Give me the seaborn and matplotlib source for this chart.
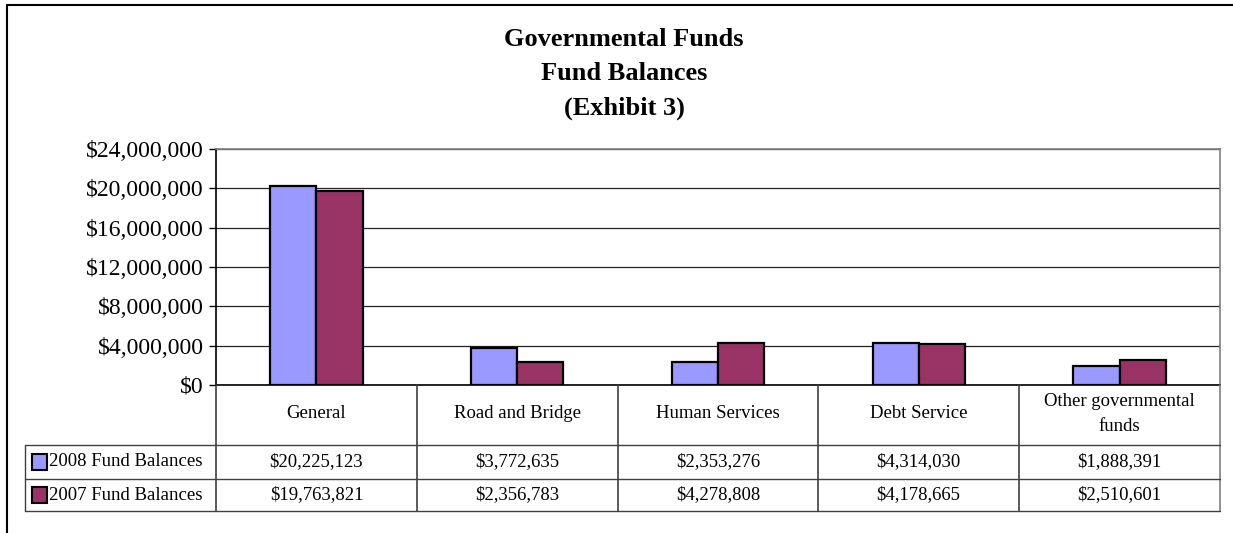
import pandas as pd
import matplotlib
matplotlib.use("Agg")
import matplotlib.pyplot as plt
import seaborn as sns
from matplotlib.lines import Line2D
from matplotlib.patches import Rectangle
from matplotlib.ticker import FuncFormatter, MultipleLocator

# ==========================================
# DATA
# ==========================================
categories = ["General", "Road and Bridge", "Human Services", "Debt Service",
              "Other governmental\nfunds"]
series = ["2008 Fund Balances", "2007 Fund Balances"]
fb_2008 = [20225123, 3772635, 2353276, 4314030, 1888391]
fb_2007 = [19763821, 2356783, 4278808, 4178665, 2510601]
colors = ["#9999FF", "#993366"]

df = pd.DataFrame({
    "fund": categories * 2,
    "balance": fb_2008 + fb_2007,
    "series": [series[0]] * len(categories) + [series[1]] * len(categories),
})

# ==========================================
# FIGURE SETUP
# ==========================================
sns.set_style("white")
plt.rcParams["font.family"] = ["Liberation Serif", "DejaVu Serif"]
plt.rcParams["text.color"] = "black"
plt.rcParams["ytick.color"] = "black"
plt.rcParams["ytick.labelcolor"] = "black"

W, H = 1233, 533
fig = plt.figure(figsize=(W / 100, H / 100), dpi=100)


def fx(px):
    return px / W


def fy(py):
    return 1 - py / H


left, right, top, bottom = 216, 1220, 149, 385
ax = fig.add_axes([fx(left), fy(bottom), fx(right) - fx(left), fy(top) - fy(bottom)])

sns.barplot(data=df, x="fund", y="balance", hue="series", order=categories,
            hue_order=series, palette=colors, saturation=1, width=0.46,
            edgecolor="black", linewidth=1.6, legend=False, ax=ax, zorder=3)

ax.set_ylim(0, 24000000)
ax.set_xlim(-0.5, len(categories) - 0.5)
ax.yaxis.set_major_locator(MultipleLocator(4000000))
ax.yaxis.set_major_formatter(FuncFormatter(lambda v, p: f"${v:,.0f}"))
ax.yaxis.grid(True, color="#222222", linewidth=0.9, zorder=0)
ax.set_axisbelow(True)
ax.set_xticks([])
ax.set_xlabel("")
ax.set_ylabel("")
ax.tick_params(axis="y", which="major", length=5, width=1, color="black",
               direction="out", left=True, labelsize=17, pad=4,
               labelcolor="black")

for side in ["top", "right"]:
    ax.spines[side].set_color("#808080")
    ax.spines[side].set_linewidth(1.2)
for side in ["left", "bottom"]:
    ax.spines[side].set_color("black")
    ax.spines[side].set_linewidth(1.2)

# ==========================================
# TITLE
# ==========================================
title_lines = ["Governmental Funds", "Fund Balances", "(Exhibit 3)"]
for i, line in enumerate(title_lines):
    fig.text(fx(624), fy(40 + i * 34), line, ha="center", va="center",
             fontsize=19, fontweight="bold", color="black")

# ==========================================
# DATA TABLE
# ==========================================
col_edges = [216, 417, 618, 818, 1019, 1220]
row_edges = [445, 479, 511]
line_kw = dict(color="#404040", linewidth=1.0, transform=fig.transFigure)

for i, xe in enumerate(col_edges):
    c = "#808080" if i == len(col_edges) - 1 else "#404040"
    fig.add_artist(Line2D([fx(xe), fx(xe)], [fy(bottom), fy(511)],
                          color=c, linewidth=1.2, transform=fig.transFigure))
for ye in row_edges:
    fig.add_artist(Line2D([fx(25), fx(1220)], [fy(ye), fy(ye)], **line_kw))
fig.add_artist(Line2D([fx(25), fx(25)], [fy(445), fy(511)], **line_kw))

for j, cat in enumerate(categories):
    cx = (col_edges[j] + col_edges[j + 1]) / 2
    fig.text(fx(cx), fy(414), cat, ha="center", va="center", fontsize=13.5,
             linespacing=1.6)
    fig.text(fx(cx), fy(462), f"${fb_2008[j]:,}", ha="center", va="center",
             fontsize=13.5)
    fig.text(fx(cx), fy(495), f"${fb_2007[j]:,}", ha="center", va="center",
             fontsize=13.5)

for k, (name, col) in enumerate(zip(series, colors)):
    yc = 462 + k * 33
    fig.add_artist(Rectangle((fx(32), fy(yc + 8)), fx(47) - fx(32), fy(yc - 8) - fy(yc + 8),
                             facecolor=col, edgecolor="black", linewidth=1.5,
                             transform=fig.transFigure))
    fig.text(fx(49), fy(yc), name, ha="left", va="center", fontsize=13.5)

# outer frame (top and left edges)
fig.add_artist(Line2D([fx(7), fx(W)], [fy(5), fy(5)], color="black",
                      linewidth=1.5, transform=fig.transFigure))
fig.add_artist(Line2D([fx(7), fx(7)], [fy(5), fy(H)], color="black",
                      linewidth=1.5, transform=fig.transFigure))

fig.savefig("out.png", dpi=100, facecolor="white")
